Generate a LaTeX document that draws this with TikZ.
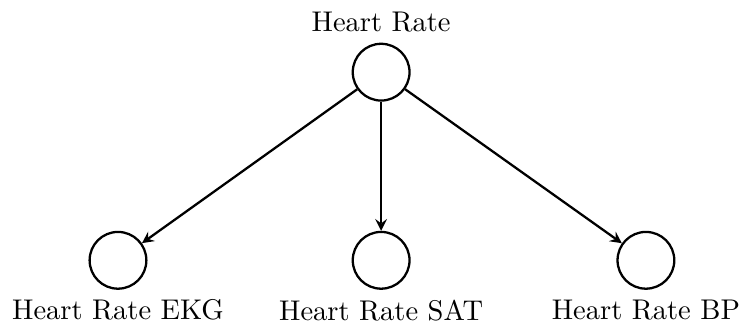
\documentclass[tikz,border=0pt]{standalone}
\usetikzlibrary{arrows}
\begin{document}
\begin{tikzpicture}[>=stealth, every node/.style={font=\normalsize},
    % Estilos de nodos
    varnode/.style={
        draw=black, thick, circle, minimum size=0.70cm, inner sep=0pt
    },
    dependencia/.style={
        ->, thick
    }
]
\useasboundingbox (0,0) rectangle (9.15,4.01);

% =============================================
% NODOS
% =============================================

% Nodo padre (arriba)
\node[varnode, label=above:{Heart Rate}] (hr) at (4.70, 3.12) {};

% Nodos hijos (abajo)
\node[varnode, label=below:{Heart Rate EKG}] (ekg) at (1.455, 0.80) {};
\node[varnode, label=below:{Heart Rate SAT}] (sat) at (4.70, 0.80) {};
\node[varnode, label=below:{Heart Rate BP}] (bp) at (7.965, 0.80) {};

% =============================================
% CONEXIONES
% =============================================
\draw[dependencia] (hr) -- (ekg);
\draw[dependencia] (hr) -- (sat);
\draw[dependencia] (hr) -- (bp);

\end{tikzpicture}
\end{document}
